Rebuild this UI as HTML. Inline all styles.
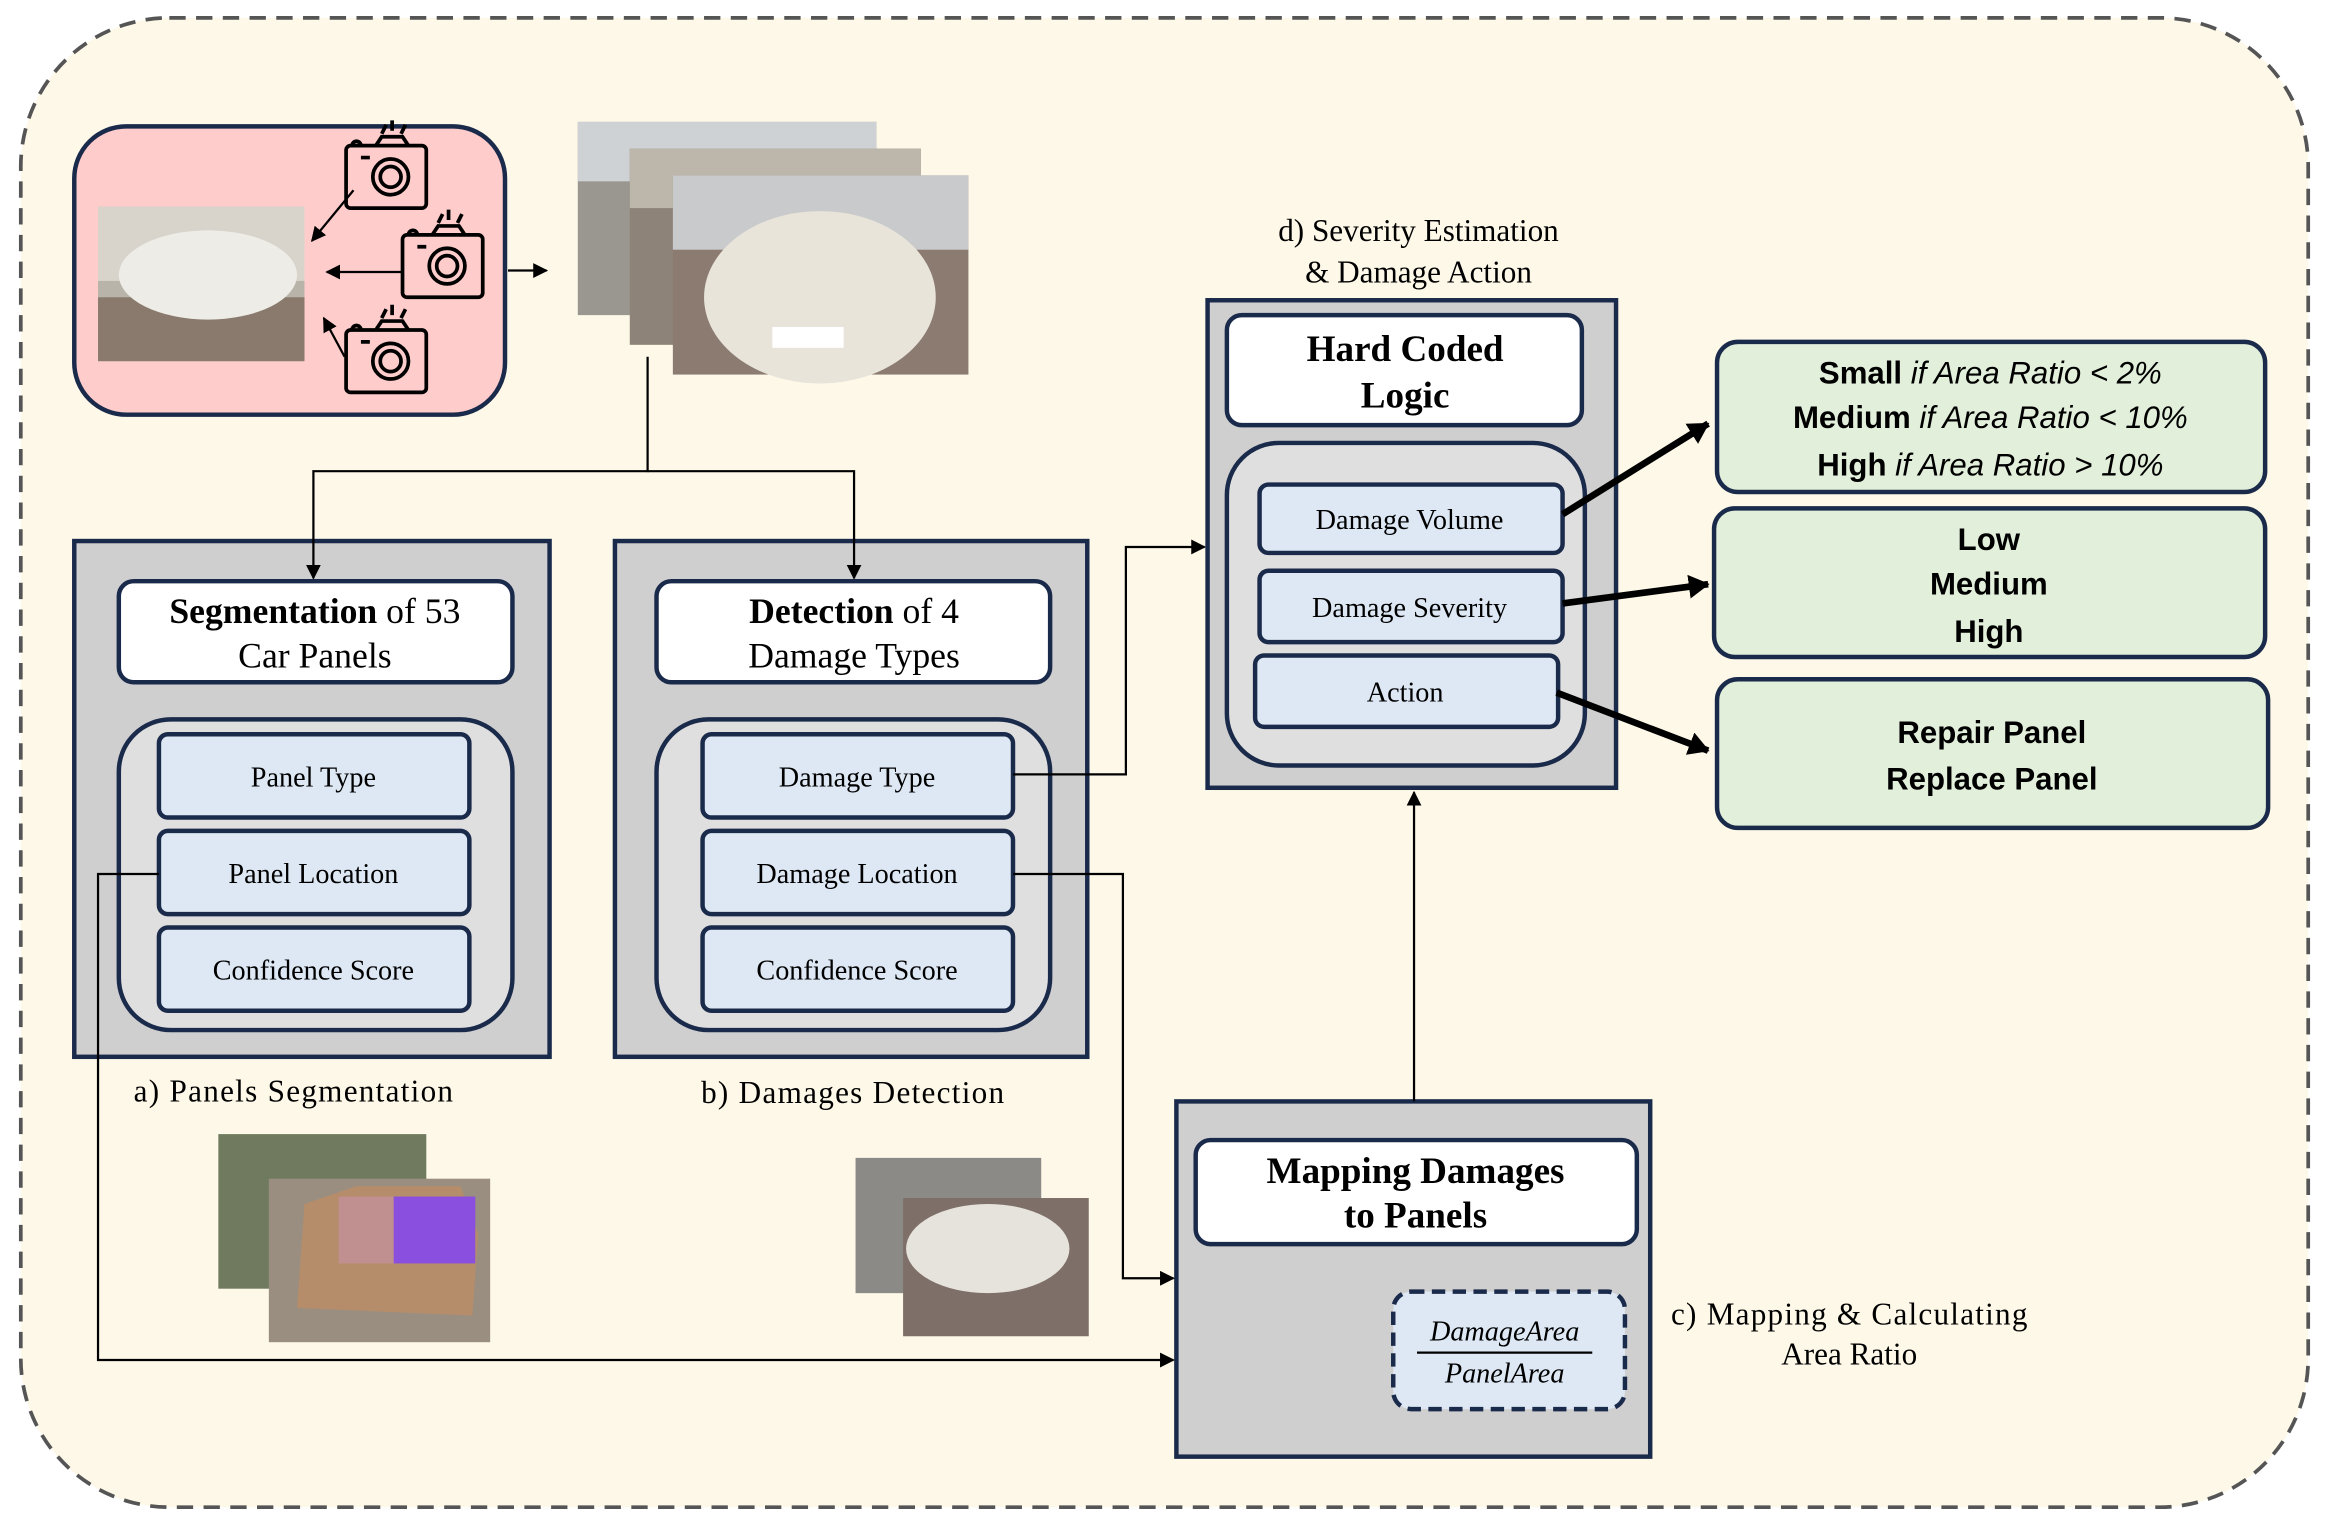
<!DOCTYPE html>
<html><head><meta charset="utf-8"><style>
html,body{margin:0;padding:0;background:#fff;}
svg{display:block}
.s{font-family:"Liberation Serif",serif;}
.a{font-family:"Liberation Sans",sans-serif;}
</style></head><body>
<svg width="2329" height="1528" viewBox="0 0 1568 1028" preserveAspectRatio="none" xmlns="http://www.w3.org/2000/svg">
<defs>
<marker id="ar" markerWidth="10" markerHeight="10" refX="9" refY="5" orient="auto" markerUnits="userSpaceOnUse"><path d="M0,0 L10,5 L0,10 z" fill="#000"/></marker>
<marker id="am" markerWidth="14" markerHeight="16" refX="13" refY="8" orient="auto" markerUnits="userSpaceOnUse"><path d="M0,0 L14,8 L0,16 z" fill="#000"/></marker>
<g id="cam" fill="none" stroke="#000" stroke-width="2.5">
<rect x="0" y="12" width="54" height="42" rx="3"/><circle cx="30" cy="33" r="12"/><circle cx="30" cy="33" r="7"/>
<path d="M20,12 l4,-6 h14 l4,6 M10,20 h6 M24,4 l3,-6 M31,2 v-7 M37,4 l3,-6 M4,12 a3,3 0 0 1 6,0"/>
</g>
</defs>
<rect width="1568" height="1028" fill="#fff"/>
<rect x="14" y="12" width="1540" height="1002" rx="100" fill="#fdf8e8" stroke="#555" stroke-width="2.5" stroke-dasharray="11,7"/>

<!-- pink input box -->
<rect x="50" y="85" width="290" height="194" rx="35" fill="#ffcccc" stroke="#1a2a4a" stroke-width="3"/>
<rect x="66" y="139" width="139" height="104" fill="#b9b4aa"/>
<rect x="66" y="139" width="139" height="50" fill="#d8d4cc"/>
<rect x="66" y="200" width="139" height="43" fill="#8a7a6e"/>
<ellipse cx="140" cy="185" rx="60" ry="30" fill="#eeece6"/>
<use href="#cam" x="233" y="86"/>
<use href="#cam" x="271" y="146"/>
<use href="#cam" x="233" y="210"/>
<line x1="238" y1="128" x2="210" y2="162" stroke="#000" stroke-width="1.5" marker-end="url(#ar)"/>
<line x1="270" y1="183" x2="220" y2="183" stroke="#000" stroke-width="1.5" marker-end="url(#ar)"/>
<line x1="232" y1="240" x2="218" y2="214" stroke="#000" stroke-width="1.5" marker-end="url(#ar)"/>
<line x1="342" y1="182" x2="368" y2="182" stroke="#000" stroke-width="1.5" marker-end="url(#ar)"/>

<!-- photo stack -->
<rect x="389" y="82" width="201" height="130" fill="#9a9690"/>
<rect x="389" y="82" width="201" height="40" fill="#cfd2d4"/>
<rect x="424" y="100" width="196" height="132" fill="#8e8378"/>
<rect x="424" y="100" width="196" height="40" fill="#bdb6aa"/>
<rect x="453" y="118" width="199" height="134" fill="#8b7b70"/>
<rect x="453" y="118" width="199" height="50" fill="#c8cacc"/>
<ellipse cx="552" cy="200" rx="78" ry="58" fill="#e8e4da"/>
<rect x="520" y="220" width="48" height="14" fill="#fff"/>

<!-- panel a -->
<rect x="50" y="364" width="320" height="347" fill="#d0cfd0" stroke="#1a2a4a" stroke-width="3"/>
<rect x="80" y="391" width="265" height="68" rx="10" fill="#fff" stroke="#1a2a4a" stroke-width="3"/>
<text class="s" x="212" y="419" font-size="24" text-anchor="middle"><tspan font-weight="bold">Segmentation</tspan> of 53</text>
<text class="s" x="212" y="449" font-size="24" text-anchor="middle">Car Panels</text>
<rect x="80" y="484" width="265" height="209" rx="35" fill="#e0dfe0" stroke="#1a2a4a" stroke-width="3"/>
<rect x="107" y="494" width="209" height="56" rx="6" fill="#dde8f4" stroke="#1a2a4a" stroke-width="3"/>
<rect x="107" y="559" width="209" height="56" rx="6" fill="#dde8f4" stroke="#1a2a4a" stroke-width="3"/>
<rect x="107" y="624" width="209" height="56" rx="6" fill="#dde8f4" stroke="#1a2a4a" stroke-width="3"/>
<text class="s" x="211" y="529" font-size="19" text-anchor="middle">Panel Type</text>
<text class="s" x="211" y="594" font-size="19" text-anchor="middle">Panel Location</text>
<text class="s" x="211" y="659" font-size="19" text-anchor="middle">Confidence Score</text>
<text class="s" x="90" y="741" font-size="21" textLength="215">a) Panels Segmentation</text>

<!-- panel b -->
<rect x="414" y="364" width="318" height="347" fill="#d0cfd0" stroke="#1a2a4a" stroke-width="3"/>
<rect x="442" y="391" width="265" height="68" rx="10" fill="#fff" stroke="#1a2a4a" stroke-width="3"/>
<text class="s" x="575" y="419" font-size="24" text-anchor="middle"><tspan font-weight="bold">Detection</tspan> of 4</text>
<text class="s" x="575" y="449" font-size="24" text-anchor="middle">Damage Types</text>
<rect x="442" y="484" width="265" height="209" rx="35" fill="#e0dfe0" stroke="#1a2a4a" stroke-width="3"/>
<rect x="473" y="494" width="209" height="56" rx="6" fill="#dde8f4" stroke="#1a2a4a" stroke-width="3"/>
<rect x="473" y="559" width="209" height="56" rx="6" fill="#dde8f4" stroke="#1a2a4a" stroke-width="3"/>
<rect x="473" y="624" width="209" height="56" rx="6" fill="#dde8f4" stroke="#1a2a4a" stroke-width="3"/>
<text class="s" x="577" y="529" font-size="19" text-anchor="middle">Damage Type</text>
<text class="s" x="577" y="594" font-size="19" text-anchor="middle">Damage Location</text>
<text class="s" x="577" y="659" font-size="19" text-anchor="middle">Confidence Score</text>
<text class="s" x="472" y="742" font-size="21" textLength="204">b) Damages Detection</text>

<!-- split connector -->
<polyline points="436,240 436,317 211,317 211,389" fill="none" stroke="#000" stroke-width="1.5" marker-end="url(#ar)"/>
<polyline points="436,317 575,317 575,389" fill="none" stroke="#000" stroke-width="1.5" marker-end="url(#ar)"/>

<!-- images under a & b -->
<rect x="147" y="763" width="140" height="104" fill="#6f7a5e"/>
<rect x="181" y="793" width="149" height="110" fill="#9a8e80"/>
<path d="M200,880 L205,810 L240,798 L310,798 L322,830 L318,885 Z" fill="#b58d6a"/>
<rect x="265" y="805" width="55" height="45" fill="#8b4fe0"/>
<rect x="228" y="805" width="37" height="45" fill="#c09090"/>
<rect x="576" y="779" width="125" height="91" fill="#8c8a86"/>
<rect x="608" y="806" width="125" height="93" fill="#7e7068"/>
<ellipse cx="665" cy="840" rx="55" ry="30" fill="#e6e3dc"/>

<!-- panel d -->
<text class="s" x="955" y="162" font-size="21" text-anchor="middle">d) Severity Estimation</text>
<text class="s" x="955" y="190" font-size="21" text-anchor="middle">&amp; Damage Action</text>
<rect x="813" y="202" width="275" height="328" fill="#d0cfd0" stroke="#1a2a4a" stroke-width="3"/>
<rect x="826" y="212" width="239" height="74" rx="10" fill="#fff" stroke="#1a2a4a" stroke-width="3"/>
<text class="s" x="946" y="243" font-size="25" font-weight="bold" text-anchor="middle">Hard Coded</text>
<text class="s" x="946" y="274" font-size="25" font-weight="bold" text-anchor="middle">Logic</text>
<rect x="826" y="298" width="241" height="217" rx="35" fill="#e0dfe0" stroke="#1a2a4a" stroke-width="3"/>
<rect x="848" y="326" width="204" height="46" rx="6" fill="#dde8f4" stroke="#1a2a4a" stroke-width="3"/>
<rect x="848" y="384" width="204" height="48" rx="6" fill="#dde8f4" stroke="#1a2a4a" stroke-width="3"/>
<rect x="845" y="441" width="204" height="48" rx="6" fill="#dde8f4" stroke="#1a2a4a" stroke-width="3"/>
<text class="s" x="949" y="356" font-size="19" text-anchor="middle">Damage Volume</text>
<text class="s" x="949" y="415" font-size="19" text-anchor="middle">Damage Severity</text>
<text class="s" x="946" y="472" font-size="19" text-anchor="middle">Action</text>

<!-- green outputs -->
<rect x="1156" y="230" width="369" height="101" rx="14" fill="#e2efda" stroke="#1a2a4a" stroke-width="3"/>
<rect x="1154" y="342" width="371" height="100" rx="14" fill="#e2efda" stroke="#1a2a4a" stroke-width="3"/>
<rect x="1156" y="457" width="371" height="100" rx="14" fill="#e2efda" stroke="#1a2a4a" stroke-width="3"/>
<g class="a" font-size="21" text-anchor="middle">
<text x="1340" y="258"><tspan font-weight="bold">Small</tspan><tspan font-style="italic"> if Area Ratio &lt; 2%</tspan></text>
<text x="1340" y="288"><tspan font-weight="bold">Medium</tspan><tspan font-style="italic"> if Area Ratio &lt; 10%</tspan></text>
<text x="1340" y="320"><tspan font-weight="bold">High</tspan><tspan font-style="italic"> if Area Ratio &gt; 10%</tspan></text>
<text x="1339" y="370" font-weight="bold">Low</text>
<text x="1339" y="400" font-weight="bold">Medium</text>
<text x="1339" y="432" font-weight="bold">High</text>
<text x="1341" y="500" font-weight="bold">Repair Panel</text>
<text x="1341" y="531" font-weight="bold">Replace Panel</text>
</g>
<line x1="1052" y1="346" x2="1150" y2="285" stroke="#000" stroke-width="4.5" marker-end="url(#am)"/>
<line x1="1052" y1="406" x2="1150" y2="393" stroke="#000" stroke-width="4.5" marker-end="url(#am)"/>
<line x1="1048" y1="466" x2="1150" y2="505" stroke="#000" stroke-width="4.5" marker-end="url(#am)"/>

<!-- panel c -->
<rect x="792" y="741" width="319" height="239" fill="#d0cfd0" stroke="#1a2a4a" stroke-width="3"/>
<rect x="805" y="767" width="297" height="70" rx="10" fill="#fff" stroke="#1a2a4a" stroke-width="3"/>
<text class="s" x="953" y="796" font-size="25" font-weight="bold" text-anchor="middle">Mapping Damages</text>
<text class="s" x="953" y="826" font-size="25" font-weight="bold" text-anchor="middle">to Panels</text>
<rect x="938" y="869" width="156" height="79" rx="12" fill="#dde8f4" stroke="#1a2a4a" stroke-width="3" stroke-dasharray="9,5"/>
<text class="s" x="1013" y="902" font-size="19" font-style="italic" text-anchor="middle">DamageArea</text>
<line x1="954" y1="910" x2="1072" y2="910" stroke="#000" stroke-width="1.5"/>
<text class="s" x="1013" y="930" font-size="19" font-style="italic" text-anchor="middle">PanelArea</text>
<text class="s" x="1125" y="891" font-size="21" textLength="240">c) Mapping &amp; Calculating</text>
<text class="s" x="1245" y="918" font-size="21" text-anchor="middle">Area Ratio</text>

<!-- connectors -->
<polyline points="682,521 758,521 758,368 811,368" fill="none" stroke="#000" stroke-width="1.5" marker-end="url(#ar)"/>
<polyline points="682,588 756,588 756,860 790,860" fill="none" stroke="#000" stroke-width="1.5" marker-end="url(#ar)"/>
<polyline points="107,588 66,588 66,915 790,915" fill="none" stroke="#000" stroke-width="1.5" marker-end="url(#ar)"/>
<line x1="952" y1="741" x2="952" y2="533" stroke="#000" stroke-width="1.5" marker-end="url(#ar)"/>
</svg>
</body></html>
